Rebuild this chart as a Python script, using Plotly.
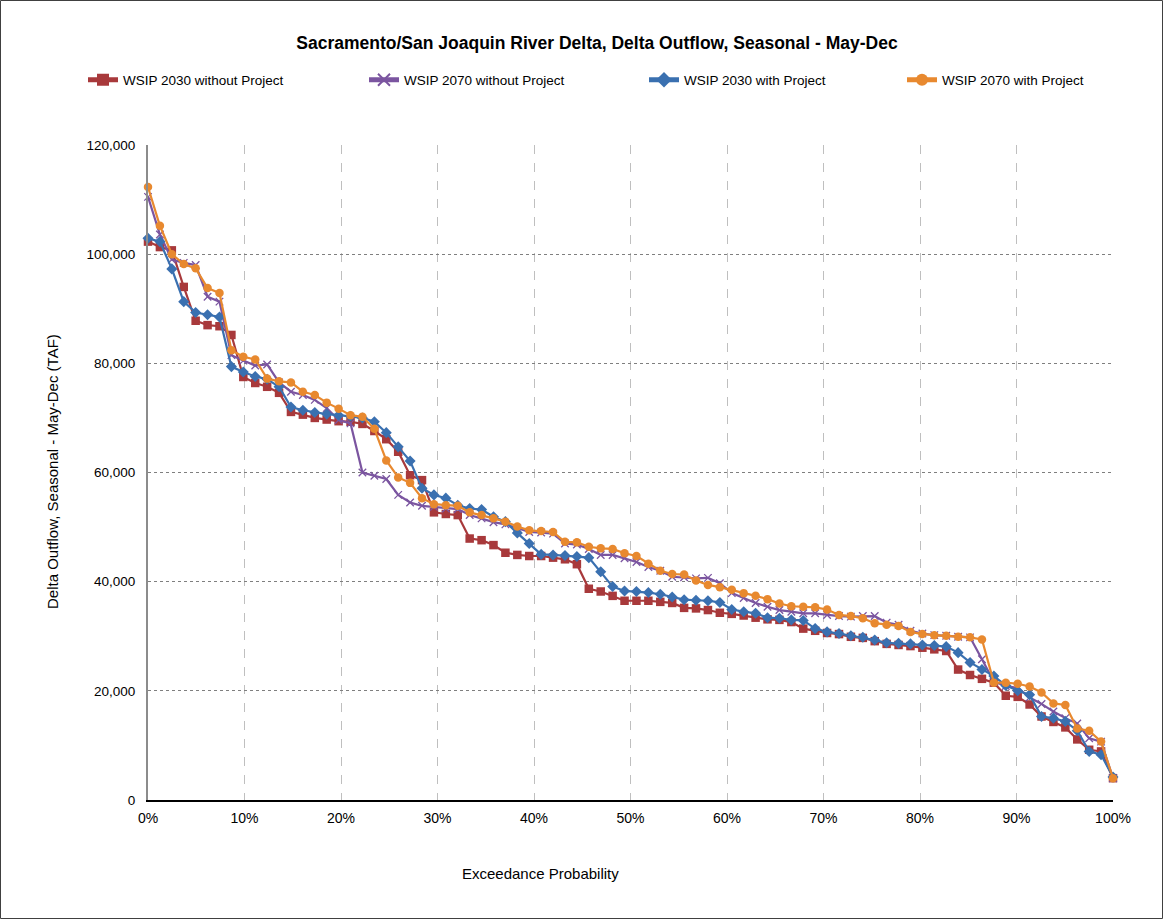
import plotly.graph_objects as go

n_years = 82
exceedance = [i / (n_years - 1) for i in range(n_years)]

wsip_2030_without = [
    102.3, 101.3, 100.7, 94.0, 87.8, 87.0, 86.8, 85.2, 77.5, 76.4,
    75.7, 74.6, 71.1, 70.6, 70.0, 69.7, 69.4, 69.3, 68.9, 67.6,
    66.1, 63.8, 59.5, 58.6, 52.7, 52.4, 52.2, 47.9, 47.6, 46.7,
    45.3, 44.9, 44.7, 44.7, 44.4, 44.1, 43.2, 38.7, 38.2, 37.4,
    36.5, 36.5, 36.5, 36.3, 36.1, 35.2, 35.1, 34.8, 34.3, 34.1,
    33.8, 33.4, 33.1, 33.0, 32.6, 31.4, 31.0, 30.6, 30.4, 29.9,
    29.7, 29.1, 28.6, 28.4, 28.2, 27.9, 27.6, 27.3, 23.9, 22.9,
    22.2, 21.5, 19.1, 18.9, 17.5, 15.3, 14.3, 13.3, 11.1, 9.2,
    8.9, 4.0,
]
wsip_2070_without = [
    110.5, 103.6, 99.0, 98.4, 98.0, 92.2, 91.3, 81.5, 80.5, 79.6,
    79.8, 76.5, 74.8, 74.2, 73.3, 71.8, 69.6, 69.0, 60.0, 59.4,
    58.8, 55.9, 54.5, 53.9, 53.7, 53.4, 53.3, 52.2, 51.6, 50.9,
    50.5, 49.8, 49.1, 49.0, 48.8, 47.0, 46.8, 46.0, 44.9, 44.9,
    44.3, 43.6, 42.7, 42.0, 40.9, 40.8, 40.6, 40.7, 39.7, 37.9,
    37.0, 36.1, 35.4, 34.8, 34.5, 34.2, 34.2, 33.9, 33.7, 33.6,
    33.7, 33.7, 32.5, 32.1, 31.0, 30.5, 30.2, 30.1, 29.9, 29.8,
    25.8, 21.7, 20.9, 20.5, 18.8, 17.6, 16.2, 15.0, 14.0, 11.3,
    10.7, 4.0,
]
wsip_2030_with = [
    102.9, 102.3, 97.3, 91.3, 89.3, 88.9, 88.5, 79.4, 78.4, 77.6,
    77.1, 75.7, 72.0, 71.4, 71.0, 70.7, 70.5, 70.3, 70.0, 69.3,
    67.3, 64.7, 62.1, 57.1, 55.9, 55.3, 54.0, 53.4, 53.2, 51.9,
    51.0, 48.9, 47.0, 45.0, 44.9, 44.8, 44.6, 44.4, 41.8, 39.1,
    38.3, 38.2, 38.0, 37.7, 37.2, 36.7, 36.6, 36.5, 36.2, 34.9,
    34.5, 34.2, 33.4, 33.3, 33.0, 32.9, 31.4, 30.8, 30.5, 30.1,
    29.8, 29.3, 28.8, 28.7, 28.6, 28.4, 28.3, 28.1, 27.0, 25.2,
    23.9, 22.7, 21.0, 20.0, 19.3, 15.3, 15.0, 14.4, 12.7, 8.9,
    8.3, 4.2,
]
wsip_2070_with = [
    112.3, 105.2, 100.0, 98.2, 97.4, 93.8, 92.9, 82.4, 81.2, 80.7,
    77.2, 76.7, 76.5, 74.8, 74.2, 72.8, 71.7, 70.5, 70.2, 68.0,
    62.2, 59.1, 58.1, 55.3, 54.2, 54.0, 53.9, 52.7, 52.2, 51.6,
    51.0, 50.1, 49.4, 49.3, 49.1, 47.3, 47.2, 46.4, 46.1, 46.0,
    45.2, 44.7, 43.3, 42.0, 41.4, 41.3, 40.2, 39.4, 39.0, 38.5,
    37.9, 37.4, 36.8, 36.0, 35.5, 35.4, 35.3, 34.9, 33.9, 33.7,
    33.3, 32.4, 32.1, 31.9, 30.8, 30.4, 30.2, 30.1, 29.9, 29.8,
    29.4, 21.5, 21.5, 21.3, 20.8, 19.7, 17.7, 17.4, 13.1, 12.7,
    10.7, 4.0,
]

series_names = [
    "WSIP 2030 without Project",
    "WSIP 2070 without Project",
    "WSIP 2030 with Project",
    "WSIP 2070 with Project",
]
series_values = [wsip_2030_without, wsip_2070_without, wsip_2030_with, wsip_2070_with]
colors = ["#A8393B", "#7B55A0", "#3A70B0", "#E8892F"]
symbols = ["square", "x-thin", "diamond", "circle"]
sizes = [8.5, 7.5, 8.5, 8.5]
legend_ids = ["legend", "legend2", "legend3", "legend4"]
legend_left_px = [83, 364, 644, 902]

y_ticks = [0, 20000, 40000, 60000, 80000, 100000, 120000]
x_ticks = [i / 10 for i in range(11)]

FONT = "Liberation Sans, Arial, sans-serif"

W, H = 1164, 920
L, R, T, B = 148, 1113, 145, 800
pw, ph = R - L, B - T


def px_x(x):
    return (x - L) / pw


def px_y(y):
    return (B - y) / ph


fig = go.Figure()
for name, vals, col, sym, sz, lg in zip(series_names, series_values, colors, symbols, sizes, legend_ids):
    fig.add_trace(go.Scatter(
        x=exceedance,
        y=[v * 1000 for v in vals],
        mode="lines+markers",
        name=name,
        legend=lg,
        line=dict(color=col, width=2.2),
        marker=dict(symbol=sym, size=sz, color=col,
                    line=dict(color=col, width=1.3 if sym == "x-thin" else 0)),
        cliponaxis=False,
    ))

legend_layout = {}
for lg, lx in zip(legend_ids, legend_left_px):
    legend_layout[lg] = dict(
        orientation="h", x=px_x(lx), xanchor="left", y=px_y(80), yanchor="middle",
        font=dict(family=FONT, size=13.5, color="black"),
        bgcolor="rgba(0,0,0,0)", itemsizing="constant",
    )

fig.update_layout(
    width=W, height=H, autosize=False,
    margin=dict(l=L, r=W - R, t=T, b=H - B),
    paper_bgcolor="white", plot_bgcolor="white",
    font=dict(family=FONT, size=13, color="black"),
    title=dict(
        text="<b>Sacramento/San Joaquin River Delta, Delta Outflow, Seasonal - May-Dec</b>",
        x=597 / W, xref="container", xanchor="center",
        y=1 - 43 / H, yref="container", yanchor="middle",
        font=dict(family=FONT, size=17.5, color="black"),
    ),
    showlegend=True,
    **legend_layout,
    xaxis=dict(
        range=[0, 1], tickvals=x_ticks, tickformat=".0%",
        showgrid=True, gridcolor="#BFBFBF", griddash="dash", gridwidth=1,
        showline=True, linecolor="black", linewidth=1.5,
        ticks="", zeroline=False, ticklabelstandoff=4,
        tickfont=dict(family=FONT, size=14),
    ),
    yaxis=dict(
        range=[0, 120000], tickvals=y_ticks, tickformat=",d",
        showgrid=True, gridcolor="#7F7F7F", griddash="dot", gridwidth=1,
        showline=True, linecolor="#8C8C8C", linewidth=2,
        ticks="", zeroline=False, ticklabelstandoff=8,
        tickfont=dict(family=FONT, size=13.5),
    ),
    yaxis2=dict(
        overlaying="y", side="right", anchor="x",
        range=[0, 120000], tickvals=y_ticks,
        showgrid=False, showticklabels=False, zeroline=False,
        showline=True, linecolor="black", linewidth=1.2,
        ticks="inside", ticklen=5, tickcolor="black", tickwidth=1,
    ),
    annotations=[
        dict(text="Delta Outflow, Seasonal - May-Dec (TAF)", textangle=-90,
             x=px_x(52), y=px_y(472), xref="paper", yref="paper",
             xanchor="center", yanchor="middle", showarrow=False,
             font=dict(family=FONT, size=15)),
        dict(text="Exceedance Probability",
             x=px_x(540), y=px_y(873), xref="paper", yref="paper",
             xanchor="center", yanchor="middle", showarrow=False,
             font=dict(family=FONT, size=15)),
    ],
    shapes=[
        dict(type="rect", xref="paper", yref="paper",
             x0=px_x(0.5), x1=px_x(W - 1.5), y0=px_y(H - 1.5), y1=px_y(0.5),
             line=dict(color="#404040", width=1), fillcolor="rgba(0,0,0,0)", layer="below"),
    ],
)

fig.write_html(
    "out.html",
    config={"displayModeBar": False},
    post_script="document.body.style.margin='0';document.body.style.overflow='hidden';",
)
